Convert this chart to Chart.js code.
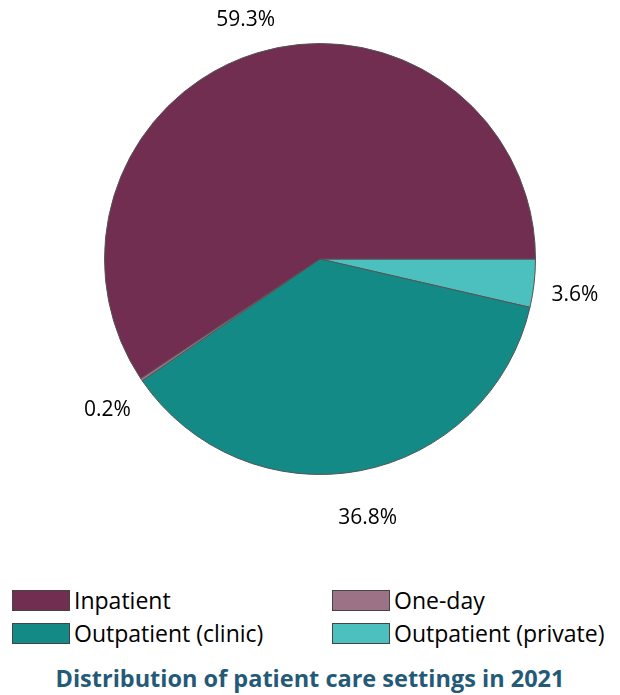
<!DOCTYPE html>
<html>
<head>
<meta charset="utf-8">
<script src="https://cdn.jsdelivr.net/npm/chart.js@4"></script>
<style>
  body { margin: 0; background: #fff; font-family: "Open Sans", Lato, sans-serif; }
  #wrap { position: relative; width: 620px; height: 560px; }
  #legend { position: absolute; top: 584px; left: 12px; width: 610px; }
  .item { position: absolute; display: flex; align-items: center; font-size: 23px; color: #000; white-space: nowrap; }
  .sw { width: 58px; height: 21px; border: 1px solid #444; margin-right: 4px; box-sizing: border-box; }
  #title { position: absolute; top: 662px; width: 620px; text-align: center; font-weight: bold; font-size: 23.5px; color: #245a78; }
</style>
</head>
<body>
<div id="wrap"><canvas id="pie"></canvas></div>
<div id="legend"></div>
<div id="title">Distribution of patient care settings in 2021</div>
<script>
const categories = ['Inpatient', 'One-day', 'Outpatient (clinic)', 'Outpatient (private)'];
const shares = [59.3, 0.2, 36.8, 3.6];
const colors = ['#722e50', '#9c7287', '#148a87', '#4bc0bf'];

// the reference runs counter-clockwise from 3 o'clock, Chart.js runs clockwise: reverse
const order = [3, 2, 1, 0];

document.addEventListener('DOMContentLoaded', function () {
    const ctx = document.getElementById('pie').getContext('2d');
    const canvas = document.getElementById('pie');
    canvas.width = 620; canvas.height = 560;

    const outsideLabels = {
        id: 'outsideLabels',
        afterDatasetsDraw(chart) {
            const meta = chart.getDatasetMeta(0);
            const c = chart.ctx;
            c.save();
            c.font = '21px "Open Sans", Lato, sans-serif';
            c.fillStyle = '#000';
            c.textAlign = 'center';
            c.textBaseline = 'middle';
            meta.data.forEach((arc, i) => {
                const mid = (arc.startAngle + arc.endAngle) / 2;
                const r = arc.outerRadius + 41;
                const x = arc.x + Math.cos(mid) * r;
                const y = arc.y + Math.sin(mid) * r + 7;
                c.fillText(chart.data.datasets[0].data[i].toFixed(1) + '%', x, y);
            });
            c.restore();
        }
    };

    new Chart(ctx, {
        type: 'pie',
        data: {
            labels: order.map(i => categories[i]),
            datasets: [{
                data: order.map(i => shares[i]),
                backgroundColor: order.map(i => colors[i]),
                borderColor: '#555',
                borderWidth: 1
            }]
        },
        options: {
            responsive: false,
            animation: false,
            rotation: 90,
            layout: { padding: { top: 43, bottom: 85, left: 104, right: 84 } },
            plugins: { legend: { display: false }, tooltip: { enabled: false } }
        },
        plugins: [outsideLabels]
    });

    const legend = document.getElementById('legend');
    categories.forEach((name, i) => {
        const el = document.createElement('div');
        el.className = 'item';
        el.style.left = (i % 2 ? 320 : 0) + 'px';
        el.style.top = (Math.floor(i / 2) * 33) + 'px';
        el.innerHTML = `<div class="sw" style="background:${colors[i]}"></div>${name}`;
        legend.appendChild(el);
    });
});
</script>
</body>
</html>
